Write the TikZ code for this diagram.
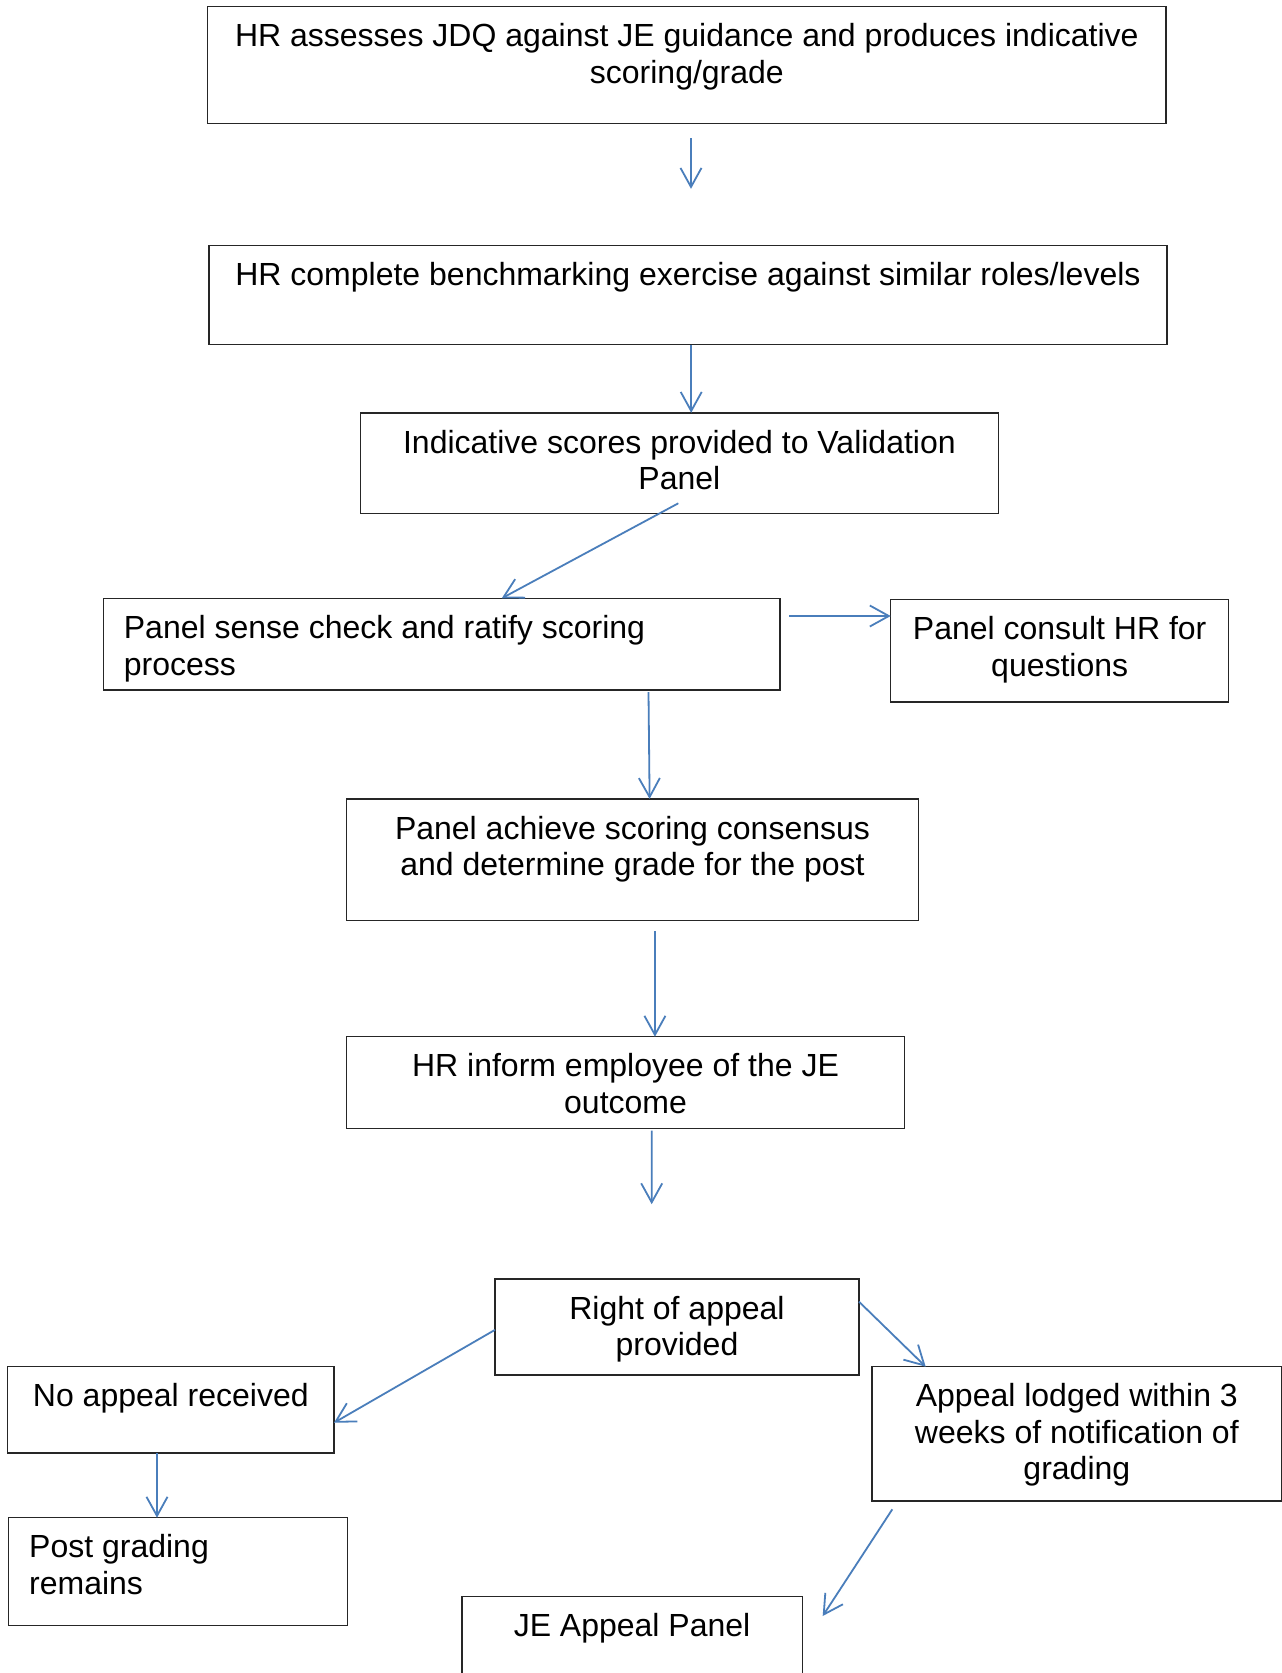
\documentclass[tikz,border=0pt]{standalone}
\usepackage{fontspec}
\setmainfont{Liberation Sans}
\usetikzlibrary{arrows.meta}
\definecolor{arrblue}{RGB}{74,126,187}
\newcommand\fstrut{\rule{0pt}{28pt}}
\begin{document}
\begin{tikzpicture}[x=1pt,y=-1pt,
  box/.style={draw=black!85, line width=1.4pt, rectangle, inner sep=0pt, outer sep=0pt, anchor=north west},
  txt/.style={font=\fontsize{32}{36.5}\selectfont, inner sep=0pt, align=center, anchor=north},
  ltxt/.style={font=\fontsize{32}{36.5}\selectfont, inner sep=0pt, align=left, anchor=north west},
  arr/.style={draw=arrblue, line width=1.8pt, -{Straight Barb[length=19pt,width=21pt]}}]
\useasboundingbox (0,0) rectangle (1282,1673);
\fill[white] (0,0) rectangle (1282,1673);
\clip (0,0) rectangle (1282,1673);

% boxes
\node[box, minimum width=958.3pt, minimum height=116.6pt] (b1) at (207.7,6.7) {};
\node[box, minimum width=958pt, minimum height=99.2pt] (b2) at (209,245.3) {};
\node[box, minimum width=637.8pt, minimum height=100.5pt] (b3) at (360.5,412.8) {};
\node[box, minimum width=676.5pt, minimum height=91.8pt] (b4) at (103.5,598.3) {};
\node[box, minimum width=338pt, minimum height=102.4pt] (b5) at (890.7,599.4) {};
\node[box, minimum width=571.8pt, minimum height=121.6pt] (b6) at (346.6,798.9) {};
\node[box, minimum width=557.9pt, minimum height=91.8pt] (b7) at (346.6,1036.7) {};
\node[box, minimum width=364.1pt, minimum height=96.2pt] (b8) at (494.9,1278.8) {};
\node[box, minimum width=326.3pt, minimum height=86.3pt] (b9) at (7.7,1366.7) {};
\node[box, minimum width=409.7pt, minimum height=134.3pt] (b10) at (872,1366.7) {};
\node[box, minimum width=339pt, minimum height=108pt] (b11) at (8.3,1517.7) {};
\node[box, minimum width=340.5pt, minimum height=110pt] (b12) at (461.8,1596.7) {};

% texts
\node[txt] (t1) at ([yshift=-12pt]b1.north) {\fstrut HR assesses JDQ against JE guidance and produces indicative\\scoring/grade};
\node[txt] (t2) at ([yshift=-12pt]b2.north) {\fstrut HR complete benchmarking exercise against similar roles/levels};
\node[txt] (t3) at ([yshift=-12pt]b3.north) {\fstrut Indicative scores provided to Validation\\Panel};
\node[ltxt] (t4) at ([xshift=20.2pt,yshift=-12pt]b4.north west) {\fstrut Panel sense check and ratify scoring\\process};
\node[txt] (t5) at ([yshift=-12pt]b5.north) {\fstrut Panel consult HR for\\questions};
\node[txt] (t6) at ([yshift=-12pt]b6.north) {\fstrut Panel achieve scoring consensus\\and determine grade for the post};
\node[txt] (t7) at ([yshift=-12pt]b7.north) {\fstrut HR inform employee of the JE\\outcome};
\node[txt] (t8) at ([yshift=-12pt]b8.north) {\fstrut Right of appeal\\provided};
\node[txt] (t9) at ([yshift=-12pt]b9.north) {\fstrut No appeal received};
\node[txt] (t10) at ([yshift=-12pt]b10.north) {\fstrut Appeal lodged within 3\\weeks of notification of\\grading};
\node[ltxt] (t11) at ([xshift=20.7pt,yshift=-12pt]b11.north west) {\fstrut Post grading\\remains};
\node[txt] (t12) at ([yshift=-12pt]b12.north) {\fstrut JE Appeal Panel};

% free arrow ends
\coordinate (e1) at (691,188.8);
\coordinate (e7) at (651.7,1204.2);

% connectors
\draw[arr] ([xshift=4.1pt,yshift=-14.9pt]b1.south) -- (e1);
\draw[arr] ([xshift=3.2pt]b2.south) -- ([xshift=11.8pt]b3.north);
\draw[arr] ([xshift=-1.1pt,yshift=10pt]b3.south) -- ([xshift=60pt]b4.north);
\draw[arr] ([xshift=9.3pt,yshift=-17.7pt]b4.north east) -- ([yshift=-16.6pt]b5.north west);
\draw[arr] ([xshift=206.75pt,yshift=-2pt]b4.south) -- ([xshift=17.1pt]b6.north);
\draw[arr] ([xshift=22.4pt,yshift=-10.6pt]b6.south) -- ([xshift=29.4pt]b7.north);
\draw[arr] ([xshift=26.2pt,yshift=-2pt]b7.south) -- (e7);
\draw[arr] ([yshift=-3pt]b8.west) -- ([yshift=-12.9pt]b9.east);
\draw[arr] ([yshift=-22.9pt]b8.north east) -- ([xshift=53.7pt]b10.north west);
\draw[arr] ([xshift=-13.85pt]b9.south) -- ([xshift=-20.8pt]b11.north);
\draw[arr] ([xshift=20.3pt,yshift=-8.3pt]b10.south west) -- ([xshift=20.4pt,yshift=-19.3pt]b12.north east);
\end{tikzpicture}
\end{document}
